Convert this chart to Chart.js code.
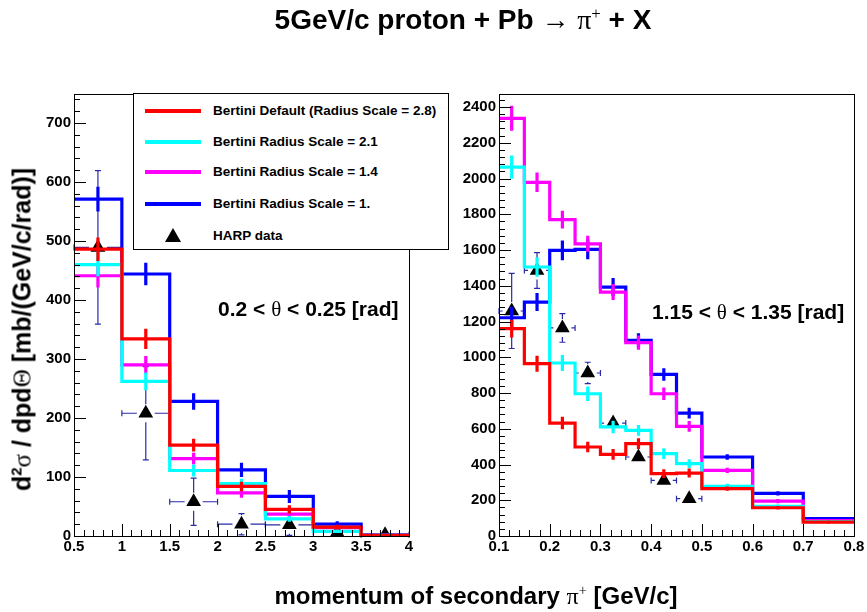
<!DOCTYPE html>
<html>
<head>
<meta charset="utf-8">
<script src="https://cdn.jsdelivr.net/npm/chart.js@4.4.1/dist/chart.umd.min.js"></script>
<style>
  html, body { margin: 0; padding: 0; background: #fff; }
  #wrap { position: relative; width: 867px; height: 612px; overflow: hidden; background: #fff;
          font-family: "Liberation Sans", Arial, Helvetica, sans-serif; font-weight: bold; color: #000; }
  canvas { position: absolute; top: 0; }
  #c1 { left: 0; }
  #c2 { left: 455px; }
  .txt { position: absolute; white-space: nowrap; }
  .sym { font-family: "Liberation Serif", "DejaVu Serif", serif; font-weight: normal; }
  sup { font-size: 60%; vertical-align: 0; position: relative; top: -0.6em; }
  #legend { position: absolute; left: 133px; top: 93px; width: 314px; height: 155px; border: 1px solid #000; background: #fff; }
  .lrow { position: absolute; left: 0; height: 20px; width: 100%; }
  .lline { position: absolute; left: 11px; width: 56px; height: 4px; top: 8px; }
  .ltext { position: absolute; left: 79px; top: 0; line-height: 20px; font-size: 13.5px; }
  .ltri { position: absolute; left: 31px; top: 2px; width: 0; height: 0;
          border-left: 8px solid transparent; border-right: 8px solid transparent; border-bottom: 14px solid #000; }
</style>
</head>
<body>
<div id="wrap">
  <canvas id="c1" width="455" height="612"></canvas>
  <canvas id="c2" width="412" height="612"></canvas>

  <div class="txt" id="title" style="left:163px; width:600px; top:4px; text-align:center; font-size:28px;">5GeV/c proton + Pb <span class="sym">&rarr;</span> <span class="sym">&pi;<sup>+</sup></span> + X</div>

  <div class="txt" id="xtitle" style="left:176px; width:600px; top:582px; text-align:center; font-size:24px;">momentum of secondary <span class="sym">&pi;<sup>+</sup></span> [GeV/c]</div>

  <div class="txt" id="ytitle" style="left:-278px; width:600px; top:315px; text-align:center; font-size:25px; transform: rotate(-90deg);">d<sup>2</sup><span class="sym">&sigma;</span> / dpd<span class="sym">&Theta;</span> [mb/(GeV/c/rad)]</div>

  <div class="txt" style="left:218px; top:297px; font-size:21px;">0.2 &lt; <span class="sym">&theta;</span> &lt; 0.25 [rad]</div>
  <div class="txt" style="left:652px; top:300px; font-size:21px;">1.15 &lt; <span class="sym">&theta;</span> &lt; 1.35 [rad]</div>

  <div id="legend">
    <div class="lrow" style="top:7px;"><div class="lline" style="background:#ff0000"></div><div class="ltext">Bertini Default (Radius Scale = 2.8)</div></div>
    <div class="lrow" style="top:38px;"><div class="lline" style="background:#00ffff"></div><div class="ltext">Bertini Radius Scale = 2.1</div></div>
    <div class="lrow" style="top:68px;"><div class="lline" style="background:#ff00ff"></div><div class="ltext">Bertini Radius Scale = 1.4</div></div>
    <div class="lrow" style="top:100px;"><div class="lline" style="background:#0000ff"></div><div class="ltext">Bertini Radius Scale = 1.</div></div>
    <div class="lrow" style="top:132px;"><div class="ltri"></div><div class="ltext">HARP data</div></div>
  </div>
</div>

<script>
// ---------------- DATA ----------------
// Left panel: 0.2 < theta < 0.25 rad
const LEFT_EDGES   = [0.5, 1, 1.5, 2, 2.5, 3, 3.5, 4];
const LEFT_RED     = [486, 334, 154, 84, 45, 15, 1];
const LEFT_CYAN    = [460, 262, 111, 89, 29, 8, 1];
const LEFT_MAGENTA = [441, 290, 131, 73, 37, 14, 1];
const LEFT_BLUE    = [571, 444, 228, 112, 67, 20, 2];
const LEFT_RED_ERR     = [20, 17, 11, 8, 7, 4, 1];
const LEFT_CYAN_ERR    = [20, 15, 10, 8, 5, 3, 1];
const LEFT_MAGENTA_ERR = [20, 15, 10, 8, 6, 4, 1];
const LEFT_BLUE_ERR    = [21, 19, 14, 12, 11, 5, 2];
const LEFT_HARP_X    = [0.75, 1.25, 1.75, 2.25, 2.75, 3.25, 3.75];
const LEFT_HARP_Y    = [489, 208, 58, 20, 19, 6, 2];
const LEFT_HARP_YERR = [130, 79, 40, 18, 18, 5, 2];
const LEFT_HARP_XERR = [0.25, 0.25, 0.25, 0.25, 0.25, 0.25, 0.25];
const LEFT_X_TICKS = [0.5, 1, 1.5, 2, 2.5, 3, 3.5, 4];
const LEFT_Y_TICKS = [0, 100, 200, 300, 400, 500, 600, 700];

// Right panel: 1.15 < theta < 1.35 rad
const RIGHT_EDGES   = [0.1, 0.15, 0.2, 0.25, 0.3, 0.35, 0.4, 0.45, 0.5, 0.6, 0.7, 0.8];
const RIGHT_RED     = [1160, 964, 632, 498, 457, 517, 349, 352, 265, 158, 78];
const RIGHT_CYAN    = [2064, 1505, 968, 796, 610, 591, 461, 405, 278, 166, 80];
const RIGHT_MAGENTA = [2337, 1979, 1770, 1635, 1365, 1082, 796, 613, 367, 195, 86];
const RIGHT_BLUE    = [1221, 1309, 1598, 1604, 1393, 1095, 904, 688, 442, 238, 98];
const RIGHT_RED_ERR     = [50, 45, 35, 30, 30, 30, 25, 25, 12, 10, 8];
const RIGHT_CYAN_ERR    = [65, 55, 45, 40, 35, 30, 30, 25, 15, 10, 8];
const RIGHT_MAGENTA_ERR = [70, 55, 50, 45, 45, 40, 35, 30, 15, 12, 8];
const RIGHT_BLUE_ERR    = [60, 50, 55, 55, 50, 40, 35, 30, 15, 12, 8];
const RIGHT_HARP_X    = [0.125, 0.175, 0.225, 0.275, 0.325, 0.375, 0.425, 0.475];
const RIGHT_HARP_Y    = [1259, 1486, 1164, 912, 632, 442, 311, 209];
const RIGHT_HARP_YERR = [210, 100, 80, 60, 50, 30, 25, 20];
const RIGHT_HARP_XERR = [0.025, 0.025, 0.025, 0.025, 0.025, 0.025, 0.025, 0.025];
const RIGHT_X_TICKS = [0.1, 0.2, 0.3, 0.4, 0.5, 0.6, 0.7, 0.8];
const RIGHT_Y_TICKS = [0, 200, 400, 600, 800, 1000, 1200, 1400, 1600, 1800, 2000, 2200, 2400];

const COLORS = { red: '#ff0000', cyan: '#00ffff', magenta: '#ff00ff', blue: '#0000ff' };
const ERR_COLOR = '#2a2aa8';

// ---------------- HELPERS ----------------
function histPoints(edges, vals) {
  const pts = vals.map((v, i) => ({ x: edges[i], y: v }));
  pts.push({ x: edges[edges.length - 1], y: vals[vals.length - 1] });
  return pts;
}
function histDataset(edges, vals, errs, color) {
  return {
    type: 'line', data: histPoints(edges, vals), stepped: 'before',
    borderColor: color, borderWidth: 3.2, pointRadius: 0, fill: false,
    _hist: { edges, vals, errs }
  };
}
function harpDataset(xs, ys, yerr, xerr) {
  return {
    type: 'scatter', data: xs.map((x, i) => ({ x, y: ys[i] })),
    pointStyle: 'triangle', pointRadius: 8.5, pointHoverRadius: 8.5,
    backgroundColor: '#000', borderColor: '#000', borderWidth: 0,
    _harp: { xs, ys, yerr, xerr }
  };
}
const fmt = v => String(parseFloat(Number(v).toFixed(3)));

const rootPlugin = {
  id: 'rootStyle',
  beforeDatasetsDraw(chart) {
    // HARP error bars (under the histograms)
    const ctx = chart.ctx, xs = chart.scales.x, ys = chart.scales.y;
    ctx.save();
    ctx.strokeStyle = ERR_COLOR; ctx.lineWidth = 1.2;
    chart.data.datasets.forEach(ds => {
      if (!ds._harp) return;
      const h = ds._harp;
      h.xs.forEach((x, i) => {
        const px = xs.getPixelForValue(x), py = ys.getPixelForValue(h.ys[i]);
        const y1 = ys.getPixelForValue(Math.max(0, h.ys[i] - h.yerr[i]));
        const y2 = ys.getPixelForValue(h.ys[i] + h.yerr[i]);
        const x1 = xs.getPixelForValue(x - h.xerr[i]);
        const x2 = xs.getPixelForValue(x + h.xerr[i]);
        const gap = 9;
        ctx.beginPath();
        if (py - y2 > gap) { ctx.moveTo(px, py - gap); ctx.lineTo(px, y2); ctx.moveTo(px - 3, y2); ctx.lineTo(px + 3, y2); }
        if (y1 - py > gap) { ctx.moveTo(px, py + gap); ctx.lineTo(px, y1); ctx.moveTo(px - 3, y1); ctx.lineTo(px + 3, y1); }
        ctx.moveTo(x1, py); ctx.lineTo(px - gap, py); ctx.moveTo(px + gap, py); ctx.lineTo(x2, py);
        ctx.moveTo(x1, py - 3); ctx.lineTo(x1, py + 3); ctx.moveTo(x2, py - 3); ctx.lineTo(x2, py + 3);
        ctx.stroke();
      });
    });
    ctx.restore();
  },
  afterDatasetDraw(chart, args) {
    const ds = chart.data.datasets[args.index];
    if (!ds._hist) return;
    const ctx = chart.ctx, xs = chart.scales.x, ys = chart.scales.y, h = ds._hist;
    ctx.save();
    ctx.strokeStyle = ds.borderColor; ctx.lineWidth = 3.2;
    ctx.beginPath();
    h.vals.forEach((v, i) => {
      const c = xs.getPixelForValue((h.edges[i] + h.edges[i + 1]) / 2);
      ctx.moveTo(c, ys.getPixelForValue(Math.max(0, v - h.errs[i])));
      ctx.lineTo(c, ys.getPixelForValue(v + h.errs[i]));
    });
    ctx.stroke();
    ctx.restore();
  },
  afterDraw(chart) {
    const ctx = chart.ctx, a = chart.chartArea, xs = chart.scales.x, ys = chart.scales.y;
    const o = chart.options.plugins.rootStyle;
    ctx.save();
    ctx.strokeStyle = '#000'; ctx.lineWidth = 1;
    ctx.strokeRect(Math.round(a.left) + 0.5, Math.round(a.top) + 0.5,
                   Math.round(a.right - a.left), Math.round(a.bottom - a.top));
    ctx.beginPath();
    for (let v = xs.min, k = 0; v <= xs.max + 1e-9; k++, v = xs.min + k * o.xMinor) {
      const px = Math.round(xs.getPixelForValue(v)) + 0.5;
      const major = (k % o.xSub) === 0;
      ctx.moveTo(px, a.bottom); ctx.lineTo(px, a.bottom - (major ? 12 : 6));
    }
    for (let v = 0, k = 0; v <= ys.max + 1e-9; k++, v = k * o.yMinor) {
      const py = Math.round(ys.getPixelForValue(v)) + 0.5;
      const major = (k % o.ySub) === 0;
      ctx.moveTo(a.left, py); ctx.lineTo(a.left + (major ? 12 : 6), py);
    }
    ctx.stroke();
    ctx.restore();
  }
};

function makeChart(id, cfg) {
  const tickFont = { family: '"Liberation Sans", Arial, sans-serif', weight: 'bold', size: 15 };
  return new Chart(document.getElementById(id), {
    data: { datasets: cfg.datasets },
    options: {
      responsive: false, animation: false, events: [],
      layout: { padding: { left: 0, right: cfg.padRight, top: 94, bottom: 0 } },
      plugins: { legend: { display: false }, tooltip: { enabled: false }, title: { display: false },
                 rootStyle: cfg.ticks },
      scales: {
        x: {
          type: 'linear', min: cfg.xMin, max: cfg.xMax,
          afterFit: s => { s.height = 76; },
          afterBuildTicks: s => { s.ticks = cfg.xTicks.map(v => ({ value: v })); },
          grid: { display: false, drawTicks: false },
          border: { display: false },
          ticks: { color: '#000', font: tickFont, padding: 2, maxRotation: 0, autoSkip: false, callback: fmt }
        },
        y: {
          type: 'linear', min: 0, max: cfg.yMax,
          afterFit: s => { s.width = cfg.yWidth; },
          afterBuildTicks: s => { s.ticks = cfg.yTicks.map(v => ({ value: v })); },
          grid: { display: false, drawTicks: false },
          border: { display: false },
          ticks: { color: '#000', font: tickFont, padding: 3, autoSkip: false, callback: fmt }
        }
      }
    },
    plugins: [rootPlugin]
  });
}

makeChart('c1', {
  datasets: [
    histDataset(LEFT_EDGES, LEFT_RED, LEFT_RED_ERR, COLORS.red),
    histDataset(LEFT_EDGES, LEFT_CYAN, LEFT_CYAN_ERR, COLORS.cyan),
    histDataset(LEFT_EDGES, LEFT_MAGENTA, LEFT_MAGENTA_ERR, COLORS.magenta),
    histDataset(LEFT_EDGES, LEFT_BLUE, LEFT_BLUE_ERR, COLORS.blue),
    harpDataset(LEFT_HARP_X, LEFT_HARP_Y, LEFT_HARP_YERR, LEFT_HARP_XERR)
  ],
  xMin: 0.5, xMax: 4, yMax: 749, padRight: 46, yWidth: 74,
  xTicks: LEFT_X_TICKS, yTicks: LEFT_Y_TICKS,
  ticks: { xMinor: 0.1, xSub: 5, yMinor: 20, ySub: 5 }
});

makeChart('c2', {
  datasets: [
    histDataset(RIGHT_EDGES, RIGHT_RED, RIGHT_RED_ERR, COLORS.red),
    histDataset(RIGHT_EDGES, RIGHT_CYAN, RIGHT_CYAN_ERR, COLORS.cyan),
    histDataset(RIGHT_EDGES, RIGHT_MAGENTA, RIGHT_MAGENTA_ERR, COLORS.magenta),
    histDataset(RIGHT_EDGES, RIGHT_BLUE, RIGHT_BLUE_ERR, COLORS.blue),
    harpDataset(RIGHT_HARP_X, RIGHT_HARP_Y, RIGHT_HARP_YERR, RIGHT_HARP_XERR)
  ],
  xMin: 0.1, xMax: 0.8, yMax: 2473, padRight: 13, yWidth: 44,
  xTicks: RIGHT_X_TICKS, yTicks: RIGHT_Y_TICKS,
  ticks: { xMinor: 0.02, xSub: 5, yMinor: 40, ySub: 5 }
});
</script>
</body>
</html>
